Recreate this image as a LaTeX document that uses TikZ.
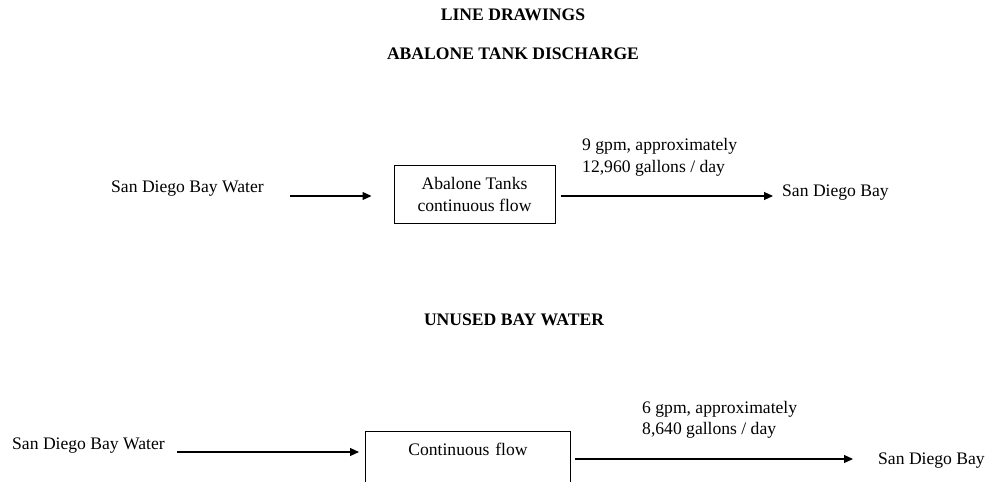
\documentclass[tikz,border=0pt]{standalone}
\usepackage{fontspec}
\setmainfont{Liberation Serif}
\usetikzlibrary{arrows.meta,calc}
\begin{document}
\begin{tikzpicture}[x=1pt,y=-1pt,
  every node/.style={font=\fontsize{17.6}{21.5}\selectfont, inner sep=0pt},
  head/.style={font=\fontsize{17.6}{21.5}\selectfont\bfseries},
  lbl/.style={anchor=west, align=left},
  tank/.style={draw, line width=1pt, align=center, font=\fontsize{17.6}{22}\selectfont},
  flow/.style={line width=1.1pt, -{Triangle[length=9pt,width=8pt]}}]
\useasboundingbox[fill=white] (0,0) rectangle (986,482);
% headings
\node[head] (h1) at (513,15) {LINE DRAWINGS};
\node[head] (h2) at (513,54) {ABALONE TANK DISCHARGE};
\node[head] (h3) at (514,320) {UNUSED BAY WATER};
% top diagram
\node[lbl] (w1) at (111,189) {San Diego Bay Water};
\node[tank, minimum width=161pt, minimum height=58pt] (b1) at (474.5,194) {Abalone Tanks\\continuous flow};
\node[lbl] (r1) at (582,157.5) {9 gpm, approximately\\12,960 gallons / day};
\node[lbl] (s1) at (782,193) {San Diego Bay};
\coordinate (a1s) at (290,196);
\draw[flow] (a1s) -- ($(b1.west |- a1s)+(-22,0)$);
\draw[flow] ($(b1.east |- a1s)+(5,0)$) -- ($(s1.west |- a1s)+(-9,0)$);
% bottom diagram
\node[lbl] (w2) at (12,446) {San Diego Bay Water};
\node[draw, line width=1pt, anchor=north west, minimum width=205pt, inner xsep=0pt, inner ysep=11.5pt, text height=12pt, text depth=60pt, text width=205pt, align=center] (b2) at (365,431) {Continuous flow};
\node[lbl] (r2) at (642,420) {6 gpm, approximately\\8,640 gallons / day};
\node[lbl] (s2) at (878,461) {San Diego Bay};
\coordinate (a2s) at (177,452);
\coordinate (a3s) at (575,459);
\draw[flow] (a2s) -- ($(b2.west |- a2s)+(-6,0)$);
\draw[flow] (a3s) -- ($(s2.west |- a3s)+(-25,0)$);
\end{tikzpicture}
\end{document}
